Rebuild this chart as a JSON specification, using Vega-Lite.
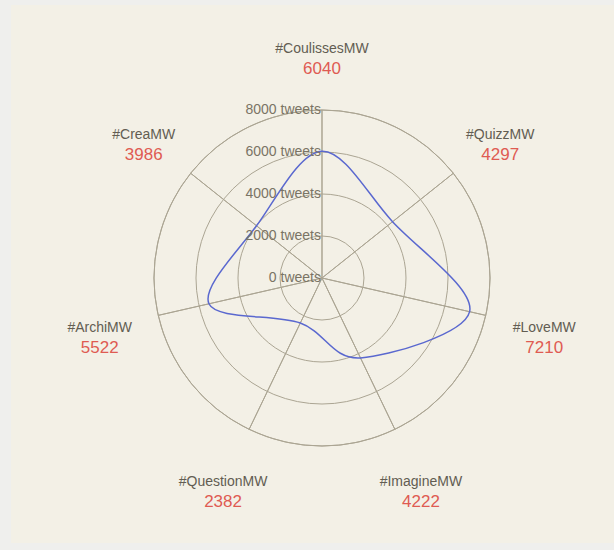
{
  "$schema": "https://vega.github.io/schema/vega-lite/v6.json",
  "autosize": "none",
  "padding": {"left": 11, "top": 5, "right": 0, "bottom": 7},
  "width": 603,
  "height": 538,
  "background": "#efefed",
  "config": {
    "view": {"fill": "#f3f0e6", "stroke": null},
    "font": "Liberation Sans"
  },
  "datasets": {
    "tags": [
      {"tag": "#CoulissesMW", "count": 6040, "idx": 0},
      {"tag": "#QuizzMW", "count": 4297, "idx": 1},
      {"tag": "#LoveMW", "count": 7210, "idx": 2},
      {"tag": "#ImagineMW", "count": 4222, "idx": 3},
      {"tag": "#QuestionMW", "count": 2382, "idx": 4},
      {"tag": "#ArchiMW", "count": 5522, "idx": 5},
      {"tag": "#CreaMW", "count": 3986, "idx": 6}
    ],
    "rings": [
      {"r": 0, "label": "0 tweets"},
      {"r": 2000, "label": "2000 tweets"},
      {"r": 4000, "label": "4000 tweets"},
      {"r": 6000, "label": "6000 tweets"},
      {"r": 8000, "label": "8000 tweets"}
    ]
  },
  "layer": [
    {
      "data": {"name": "rings"},
      "transform": [{"filter": "datum.r > 0"}],
      "mark": {"type": "arc", "theta": 0, "theta2": 6.2832, "fill": null, "filled": false, "stroke": "#aba593", "strokeWidth": 1},
      "encoding": {
        "x": {"datum": 0, "type": "quantitative", "scale": {"domain": [-14809.5, 13904.8], "nice": false, "zero": false}, "axis": null},
        "y": {"datum": 0, "type": "quantitative", "scale": {"domain": [-12619, 13000], "nice": false, "zero": false}, "axis": null},
        "radius": {"field": "r", "type": "quantitative", "stack": null, "scale": {"type": "linear", "domain": [0, 8000], "range": [0, 168], "zero": true, "nice": false}}
      }
    },
    {
      "data": {"name": "tags"},
      "mark": {"type": "arc", "fill": null, "filled": false, "stroke": "#aba593", "strokeWidth": 1},
      "encoding": {
        "x": {"datum": 0, "type": "quantitative"},
        "y": {"datum": 0, "type": "quantitative"},
        "theta": {"aggregate": "count", "type": "quantitative", "stack": true, "scale": {"domain": [0, 7], "range": [0, 6.283185], "zero": true, "nice": false}},
        "detail": {"field": "tag", "type": "nominal"},
        "radius": {"datum": 8000, "type": "quantitative", "stack": null}
      }
    },
    {
      "data": {"name": "tags"},
      "transform": [
        {"calculate": "datum.count * sin(datum.idx * 2 * PI / 7)", "as": "px"},
        {"calculate": "datum.count * cos(datum.idx * 2 * PI / 7)", "as": "py"}
      ],
      "mark": {"type": "line", "interpolate": "cardinal-closed", "color": "#5a68cf", "strokeWidth": 1.5},
      "encoding": {
        "x": {"field": "px", "type": "quantitative"},
        "y": {"field": "py", "type": "quantitative"},
        "order": {"field": "idx", "type": "quantitative"}
      }
    },
    {
      "data": {"name": "rings"},
      "mark": {"type": "text", "align": "right", "baseline": "middle", "fontSize": 14, "color": "#7a7465", "dx": -1},
      "encoding": {
        "x": {"datum": 0, "type": "quantitative"},
        "y": {"datum": 0, "type": "quantitative"},
        "theta": {"datum": 0, "type": "quantitative"},
        "radius": {"field": "r", "type": "quantitative", "stack": null},
        "text": {"field": "label", "type": "nominal"}
      }
    },
    {
      "data": {"name": "tags"},
      "mark": {"type": "text", "align": "center", "baseline": "middle", "fontSize": 14, "color": "#625d52", "dy": -1},
      "encoding": {
        "x": {"datum": 0, "type": "quantitative"},
        "y": {"datum": 0, "type": "quantitative"},
        "theta": {"field": "idx", "type": "quantitative", "stack": null},
        "radius": {"datum": 10857, "type": "quantitative", "stack": null},
        "text": {"field": "tag", "type": "nominal"}
      }
    },
    {
      "data": {"name": "tags"},
      "mark": {"type": "text", "align": "center", "baseline": "middle", "fontSize": 17, "color": "#df5b52", "dy": 19},
      "encoding": {
        "x": {"datum": 0, "type": "quantitative"},
        "y": {"datum": 0, "type": "quantitative"},
        "theta": {"field": "idx", "type": "quantitative", "stack": null},
        "radius": {"datum": 10857, "type": "quantitative", "stack": null},
        "text": {"field": "count", "type": "quantitative"}
      }
    }
  ]
}
